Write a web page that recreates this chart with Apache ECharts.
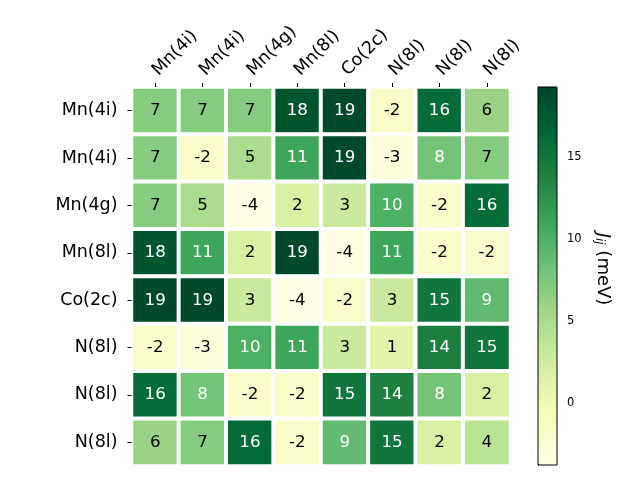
<!DOCTYPE html>
<html>
<head>
<meta charset="utf-8">
<script src="https://cdn.jsdelivr.net/npm/echarts@6/dist/echarts.min.js"></script>
<style>html,body{margin:0;padding:0;background:#fff}#c{width:640px;height:480px}</style>
</head>
<body>
<div id="c"></div>
<script>
const xLabels = ['Mn(4i)', 'Mn(4i)', 'Mn(4g)', 'Mn(8l)', 'Co(2c)', 'N(8l)', 'N(8l)', 'N(8l)'];
const yLabels = ['Mn(4i)', 'Mn(4i)', 'Mn(4g)', 'Mn(8l)', 'Co(2c)', 'N(8l)', 'N(8l)', 'N(8l)'];
const row0 = [7, 7, 7, 18, 19, -2, 16, 6];
const row1 = [7, -2, 5, 11, 19, -3, 8, 7];
const row2 = [7, 5, -4, 2, 3, 10, -2, 16];
const row3 = [18, 11, 2, 19, -4, 11, -2, -2];
const row4 = [19, 19, 3, -4, -2, 3, 15, 9];
const row5 = [-2, -3, 10, 11, 3, 1, 14, 15];
const row6 = [16, 8, -2, -2, 15, 14, 8, 2];
const row7 = [6, 7, 16, -2, 9, 15, 2, 4];
const colorMin = -3.76;
const colorMax = 19.3;
const cbarTicks = [0, 5, 10, 15];

const rows = [row0, row1, row2, row3, row4, row5, row6, row7];
const mid = (colorMin + colorMax) / 2;
const data = [];
rows.forEach((r, i) => r.forEach((v, j) => {
  data.push({value: [j, i, v], label: {color: v > mid ? '#ffffff' : '#000000'}});
}));
const ylgn = ['#ffffe5','#f7fcb9','#d9f0a3','#addd8e','#78c679','#41ab5d','#238443','#006837','#004529'];
const font = 'DejaVu Sans';

const chart = echarts.init(document.getElementById('c'), null, {renderer: 'canvas'});
chart.setOption({
  backgroundColor: '#ffffff',
  animation: false,
  textStyle: {fontFamily: font},
  grid: [
    {left: 131.5, top: 87, width: 379, height: 379, containLabel: false},
    {left: 538, top: 87, width: 19, height: 378, show: true, borderColor: '#000', borderWidth: 1, backgroundColor: 'transparent', z: 10}
  ],
  xAxis: [
    {type: 'category', gridIndex: 0, position: 'top', data: xLabels, z: 5,
     axisLine: {show: false}, splitLine: {show: false},
     axisTick: {show: true, alignWithLabel: true, length: 4, lineStyle: {color: '#000'}},
     axisLabel: {rotate: -45, fontSize: 17.5, color: '#000', fontFamily: font, margin: 14, interval: 0}},
    {type: 'value', gridIndex: 1, show: false, min: 0, max: 1}
  ],
  yAxis: [
    {type: 'category', gridIndex: 0, inverse: true, data: yLabels, z: 5,
     axisLine: {show: false}, splitLine: {show: false},
     axisTick: {show: true, alignWithLabel: true, length: 4, lineStyle: {color: '#000'}},
     axisLabel: {fontSize: 17.5, color: '#000', fontFamily: font, margin: 14, interval: 0}},
    {type: 'value', gridIndex: 1, position: 'right', min: colorMin, max: colorMax,
     axisLine: {show: true, lineStyle: {color: '#000'}}, splitLine: {show: false},
     axisTick: {show: true, length: 3.5, customValues: cbarTicks, lineStyle: {color: '#000'}},
     axisLabel: {customValues: cbarTicks, fontSize: 11.5, color: '#000', fontFamily: font, margin: 10},
     name: '{j|J}{s|ij} (meV)', nameLocation: 'middle', nameRotate: -90, nameGap: 36,
     nameTextStyle: {fontSize: 18, color: '#000', fontFamily: font, padding: [0, 14, 0, 0],
       rich: {j: {fontSize: 18, fontStyle: 'italic', fontFamily: font, color: '#000'},
              s: {fontSize: 12, fontStyle: 'italic', fontFamily: font, color: '#000', padding: [8, 0, 0, 0]}}}}
  ],
  visualMap: {
    type: 'continuous', min: colorMin, max: colorMax, seriesIndex: 0,
    calculable: false, show: true, left: 538, top: 87, itemWidth: 19, itemHeight: 378,
    padding: 0, text: null, showLabel: false, inRange: {color: ylgn}, hoverLink: false
  },
  series: [{
    type: 'heatmap', xAxisIndex: 0, yAxisIndex: 0, data: data, z: 2,
    itemStyle: {borderColor: '#ffffff', borderWidth: 4},
    label: {show: true, fontSize: 16.7, fontFamily: font, formatter: p => String(p.value[2])},
    emphasis: {disabled: true}
  }]
});
</script>
</body>
</html>
